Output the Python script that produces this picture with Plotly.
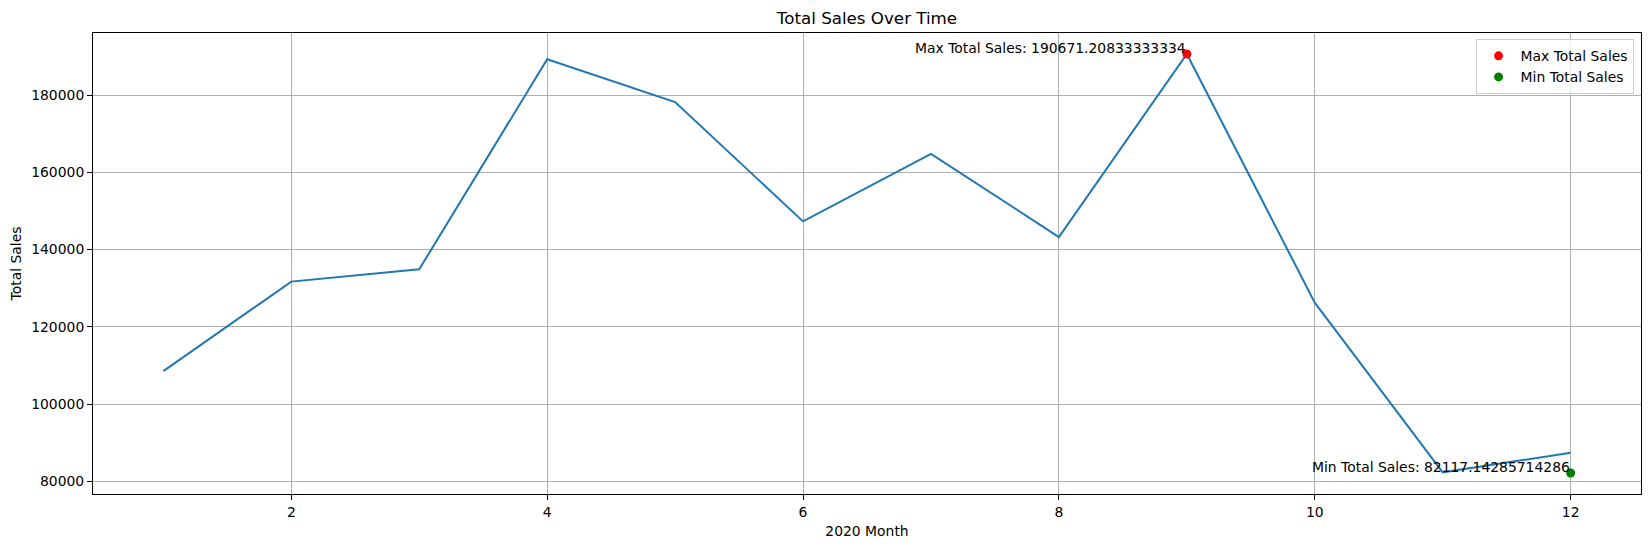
import plotly.graph_objects as go

months = [1, 2, 3, 4, 5, 6, 7, 8, 9, 10, 11, 12]
total_sales = [108500, 131700, 134880, 189300, 178200, 147300, 164800, 143250,
               190671.20833333334, 126250, 82300, 87370]

max_month = 9
max_value = 190671.20833333334
min_month = 12
min_value = 82117.14285714286

x_ticks = [2, 4, 6, 8, 10, 12]
y_ticks = [80000, 100000, 120000, 140000, 160000, 180000]

FONT = "DejaVu Sans"

# page body has an 8px margin; size the figure so that the page fits the window
W, H = 1636, 531

# matplotlib-style 5% margins
xmin, xmax = min(months), max(months)
xpad = (xmax - xmin) * 0.05
ylo = min(min(total_sales), min_value)
yhi = max(max(total_sales), max_value)
ypad = (yhi - ylo) * 0.05

fig = go.Figure()
fig.add_trace(go.Scatter(x=months, y=total_sales, mode="lines",
                         line=dict(color="#1f77b4", width=2), showlegend=False))
fig.add_trace(go.Scatter(x=[max_month], y=[max_value], mode="markers",
                         marker=dict(color="red", size=9), name="Max Total Sales"))
fig.add_trace(go.Scatter(x=[min_month], y=[min_value], mode="markers",
                         marker=dict(color="green", size=9), name="Min Total Sales"))

fig.add_annotation(x=max_month, y=max_value, text=f"Max Total Sales: {max_value}",
                   showarrow=False, xanchor="right", yanchor="bottom", yshift=-4, xshift=1,
                   font=dict(family=FONT, size=13.9, color="black"))
fig.add_annotation(x=min_month, y=min_value, text=f"Min Total Sales: {min_value}",
                   showarrow=False, xanchor="right", yanchor="bottom", yshift=-4, xshift=1,
                   font=dict(family=FONT, size=13.9, color="black"))

axis_common = dict(showline=True, mirror=True, linecolor="black", linewidth=1,
                   ticks="outside", ticklen=5, tickcolor="black", tickwidth=1,
                   showgrid=True, gridcolor="#b0b0b0", gridwidth=1, zeroline=False,
                   automargin=False,
                   tickfont=dict(family=FONT, size=13.9, color="black"))

fig.update_layout(
    width=W, height=H,
    margin=dict(l=85, r=3, t=25, b=45),
    paper_bgcolor="white", plot_bgcolor="white",
    font=dict(family=FONT, size=13.9, color="black"),
    title=dict(text="Total Sales Over Time", xref="paper", x=0.5, xanchor="center",
               y=1 - 10 / H, yanchor="middle",
               font=dict(family=FONT, size=16.7, color="black")),
    xaxis=dict(range=[xmin - xpad, xmax + xpad], tickvals=x_ticks,
               title=dict(text="2020 Month", font=dict(family=FONT, size=13.9), standoff=10),
               **axis_common),
    yaxis=dict(range=[ylo - ypad, yhi + ypad], tickvals=y_ticks, tickformat="d",
               title=dict(text="Total Sales", font=dict(family=FONT, size=13.9), standoff=7),
               **axis_common),
    legend=dict(x=0.9952, y=0.9863, xanchor="right", yanchor="top",
                bgcolor="rgba(255,255,255,0.8)", bordercolor="#cccccc", borderwidth=1,
                font=dict(family=FONT, size=13.9, color="black"),
                itemwidth=34),
    showlegend=True,
)

fig.write_html("out.html")
